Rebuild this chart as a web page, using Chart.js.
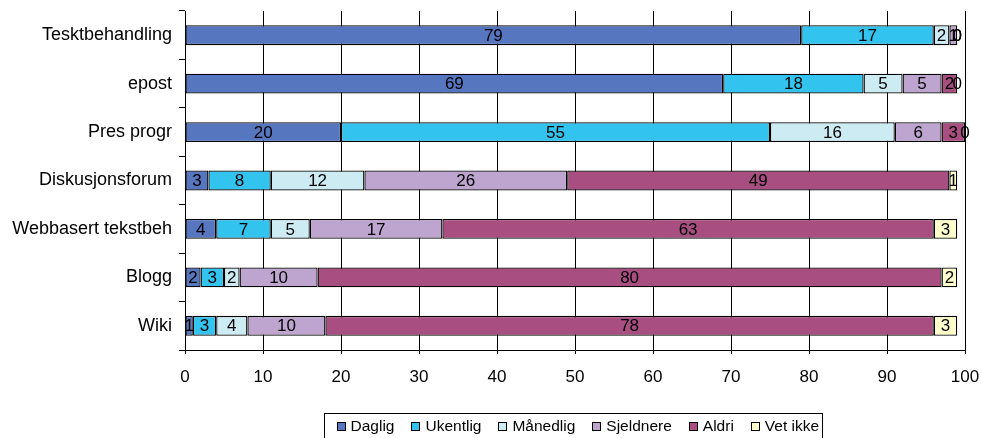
<!DOCTYPE html>
<html>
<head>
<meta charset="utf-8">
<script src="https://cdn.jsdelivr.net/npm/chart.js@4/dist/chart.umd.min.js"></script>
<style>
  html, body { margin: 0; padding: 0; background: #fff; }
  #wrap { width: 981px; height: 438px; }
</style>
</head>
<body>
<div id="wrap"><canvas id="c" width="981" height="438"></canvas></div>
<script>
// Categories (top to bottom)
const categories = ['Tesktbehandling', 'epost', 'Pres progr', 'Diskusjonsforum', 'Webbasert tekstbeh', 'Blogg', 'Wiki'];

// Percentage per answer option
const daglig    = [79, 69, 20, 3, 4, 2, 1];
const ukentlig  = [17, 18, 55, 8, 7, 3, 3];
const maanedlig = [2, 5, 16, 12, 5, 2, 4];
const sjeldnere = [1, 5, 6, 26, 17, 10, 10];
const aldri     = [0, 2, 3, 49, 63, 80, 78];
const vetIkke   = [0, 0, 0, 1, 3, 2, 3];

const seriesNames = ['Daglig', 'Ukentlig', 'Månedlig', 'Sjeldnere', 'Aldri', 'Vet ikke'];
const seriesValues = [daglig, ukentlig, maanedlig, sjeldnere, aldri, vetIkke];
const seriesColors = ['#5676C0', '#33C3EF', '#CDEBF3', '#BEA5D0', '#A84E80', '#FFFFCC'];

const xTicks = [0, 10, 20, 30, 40, 50, 60, 70, 80, 90, 100];

const FONT = 'Liberation Sans, Arial, sans-serif';

// Value labels centred in each segment
const valueLabels = {
  id: 'valueLabels',
  afterDatasetsDraw(chart) {
    const ctx = chart.ctx;
    ctx.save();
    ctx.font = '17px ' + FONT;
    ctx.fillStyle = '#000';
    ctx.textAlign = 'center';
    ctx.textBaseline = 'middle';
    chart.data.datasets.forEach((ds, di) => {
      const meta = chart.getDatasetMeta(di);
      meta.data.forEach((bar, i) => {
        const v = ds.data[i];
        const cx = (bar.x + bar.base) / 2;
        ctx.fillText(String(v), cx, bar.y + 1);
      });
    });
    ctx.restore();
  }
};

// Boxed legend below the axis
const boxedLegend = {
  id: 'boxedLegend',
  afterDraw(chart) {
    const ctx = chart.ctx;
    ctx.save();
    ctx.font = '15.5px ' + FONT;
    const sq = 8, gap = 6, itemGap = 17, padL = 12, padR = 3;
    const widths = seriesNames.map(n => sq + gap + ctx.measureText(n).width);
    const total = widths.reduce((a, b) => a + b, 0) + itemGap * (seriesNames.length - 1) + padL + padR;
    const cx = (chart.chartArea.left + chart.chartArea.right) / 2 - 2;
    const left = Math.round(cx - total / 2) + 0.5;
    const top = 413.5, h = 26;
    ctx.strokeStyle = '#000';
    ctx.lineWidth = 1;
    ctx.strokeRect(left, top, Math.round(total), h);
    let x = left + padL;
    const cy = 426;
    seriesNames.forEach((n, i) => {
      const bx = Math.round(x) + 0.5, by = Math.round(cy - sq / 2) + 0.5;
      ctx.fillStyle = seriesColors[i];
      ctx.fillRect(bx, by, sq, sq);
      ctx.strokeRect(bx, by, sq, sq);
      ctx.fillStyle = '#000';
      ctx.textAlign = 'left';
      ctx.textBaseline = 'middle';
      ctx.fillText(n, x + sq + gap, cy + 1);
      x += widths[i] + itemGap;
    });
    ctx.restore();
  }
};

new Chart(document.getElementById('c'), {
  type: 'bar',
  data: {
    labels: categories,
    datasets: seriesNames.map((name, i) => ({
      label: name,
      data: seriesValues[i],
      backgroundColor: seriesColors[i],
      borderColor: '#000',
      borderWidth: 1.3,
      borderSkipped: false,
      categoryPercentage: 0.41,
      barPercentage: 1.0
    }))
  },
  options: {
    indexAxis: 'y',
    responsive: false,
    animation: false,
    layout: { padding: { top: 11, right: 16, bottom: 48, left: 0 } },
    plugins: {
      legend: { display: false },
      tooltip: { enabled: false }
    },
    scales: {
      x: {
        stacked: true,
        min: 0,
        max: 100,
        afterBuildTicks(scale) { scale.ticks = xTicks.map(v => ({ value: v })); },
        afterFit(scale) {
          scale.height = 40;
          scale.paddingLeft = 0;
          scale.paddingRight = 0;
        },
        border: { display: true, color: '#000', width: 1 },
        grid: { color: '#000', lineWidth: 1, drawTicks: true, tickLength: 4 },
        ticks: { color: '#000', font: { family: FONT, size: 17 }, padding: 13, maxRotation: 0 }
      },
      y: {
        stacked: true,
        afterFit(scale) {
          scale.width = 185;
          scale.paddingTop = 0;
          scale.paddingBottom = 0;
        },
        border: { display: true, color: '#000', width: 1 },
        grid: { display: true, drawOnChartArea: false, drawTicks: true, tickLength: 6, color: '#000', offset: true },
        ticks: { color: '#000', font: { family: FONT, size: 18 }, padding: 7 }
      }
    }
  },
  plugins: [valueLabels, boxedLegend]
});
</script>
</body>
</html>
